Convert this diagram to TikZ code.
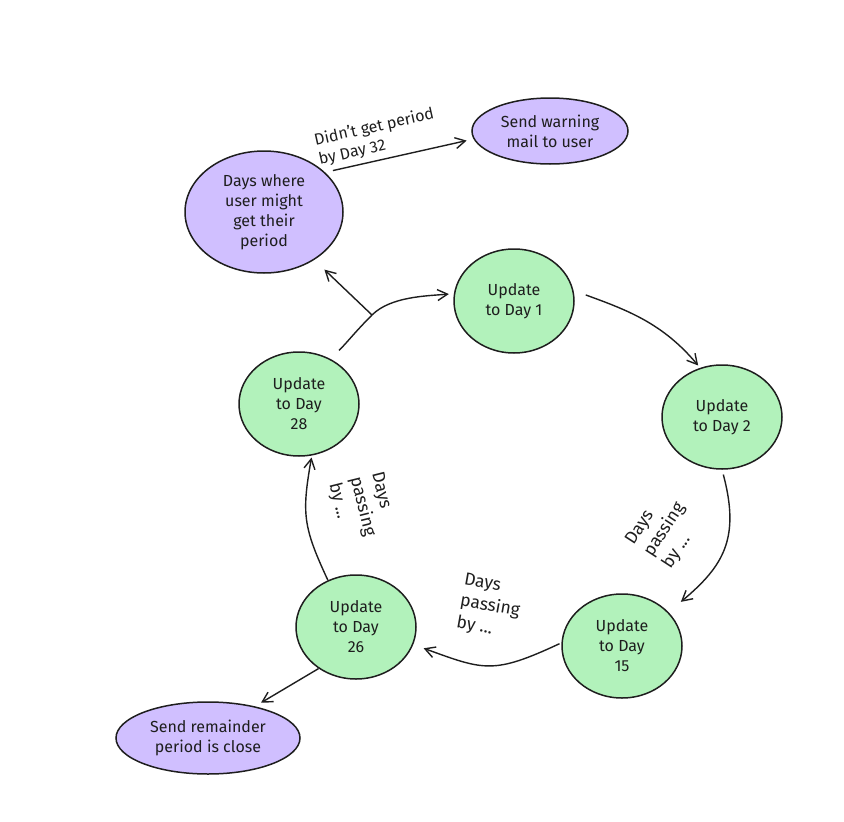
\documentclass[tikz,border=0pt]{standalone}
\usepackage{fontspec}
\setmainfont{Fira Sans}
\usetikzlibrary{shapes.geometric,arrows.meta}
\definecolor{ink}{HTML}{1E1E1E}
\definecolor{lilac}{HTML}{D0BFFF}
\definecolor{mint}{HTML}{B2F2BB}
\begin{document}
\begin{tikzpicture}[x=1pt,y=1pt,
  every node/.style={font=\fontsize{16}{20}\selectfont, text=ink},
  blob/.style={ellipse, draw=ink, line width=1.5pt, inner sep=0pt, align=center},
  dayblob/.style={blob, fill=mint, minimum width=120pt, minimum height=104pt},
  noteblob/.style={blob, fill=lilac},
  flow/.style={draw=ink, line width=1.4pt, -{Straight Barb[length=10pt,width=11pt]}},
  tag/.style={align=left, font=\fontsize{17.5}{22}\selectfont}
]
\useasboundingbox (0,0) rectangle (844,-822);

% window of days where the period may start, and the warning it triggers
\node[noteblob, minimum width=158pt, minimum height=122pt] (dw) at (264,-212)
  {Days where\\user might\\get their\\period};
\node[noteblob, minimum width=156pt, minimum height=66pt] (sw) at (550,-131)
  {Send warning\\mail to user};

% daily update cycle
\node[dayblob] (d1)  at (514,-301) {Update\\to Day 1};
\node[dayblob] (d2)  at (722,-417) {Update\\to Day 2};
\node[dayblob] (d15) at (622,-646) {Update\\to Day\\15};
\node[dayblob] (d26) at (356,-627) {Update\\to Day\\26};
\node[dayblob] (d28) at (299,-404) {Update\\to Day\\28};

% reminder sent shortly before the expected period
\node[noteblob, minimum width=184pt, minimum height=72pt] (sr) at (208,-738)
  {Send remainder\\period is close};

% connectors
\coordinate (fork) at (372,-315);

\draw[flow, shorten <=8pt, shorten >=7pt] (dw.33) --
  node[align=left, sloped, above, pos=0.38, yshift=1pt] (late) {Didn't get period\\by Day 32} (sw.186);

\draw[flow, shorten <=12pt, shorten >=5pt] (d28.55) to[out=45,in=225] (fork)
  to[out=45,in=185,looseness=0.8] (d1.173);
\draw[flow, shorten >=14pt] (fork) -- (dw);

\draw[flow, shorten <=13pt, shorten >=3pt] (d1.10) to[out=-20,in=130] (d2.114);
\draw[flow, shorten <=5pt, shorten >=16pt] (d2.south) to[out=-75,in=40,looseness=1.2] (d15.36);
\draw[flow, shorten <=2pt, shorten >=11pt] (d15.177) to[out=205,in=-20,looseness=1.3] (d26.-17);
\draw[flow, shorten >=2pt] (d26.121) to[out=115,in=-100,looseness=1.2] (d28.-76);
\draw[flow, shorten >=7pt] (d26.228) -- (sr.34);

% edge labels
\node[tag, rotate=57]  (passA) at (665,-530) {Days\\passing\\by ...};
\node[tag, rotate=-10] (passB) at (490,-607) {Days\\passing\\by ...};
\node[tag, rotate=-76] (passC) at (362,-507) {Days\\passing\\by ...};
\end{tikzpicture}
\end{document}
